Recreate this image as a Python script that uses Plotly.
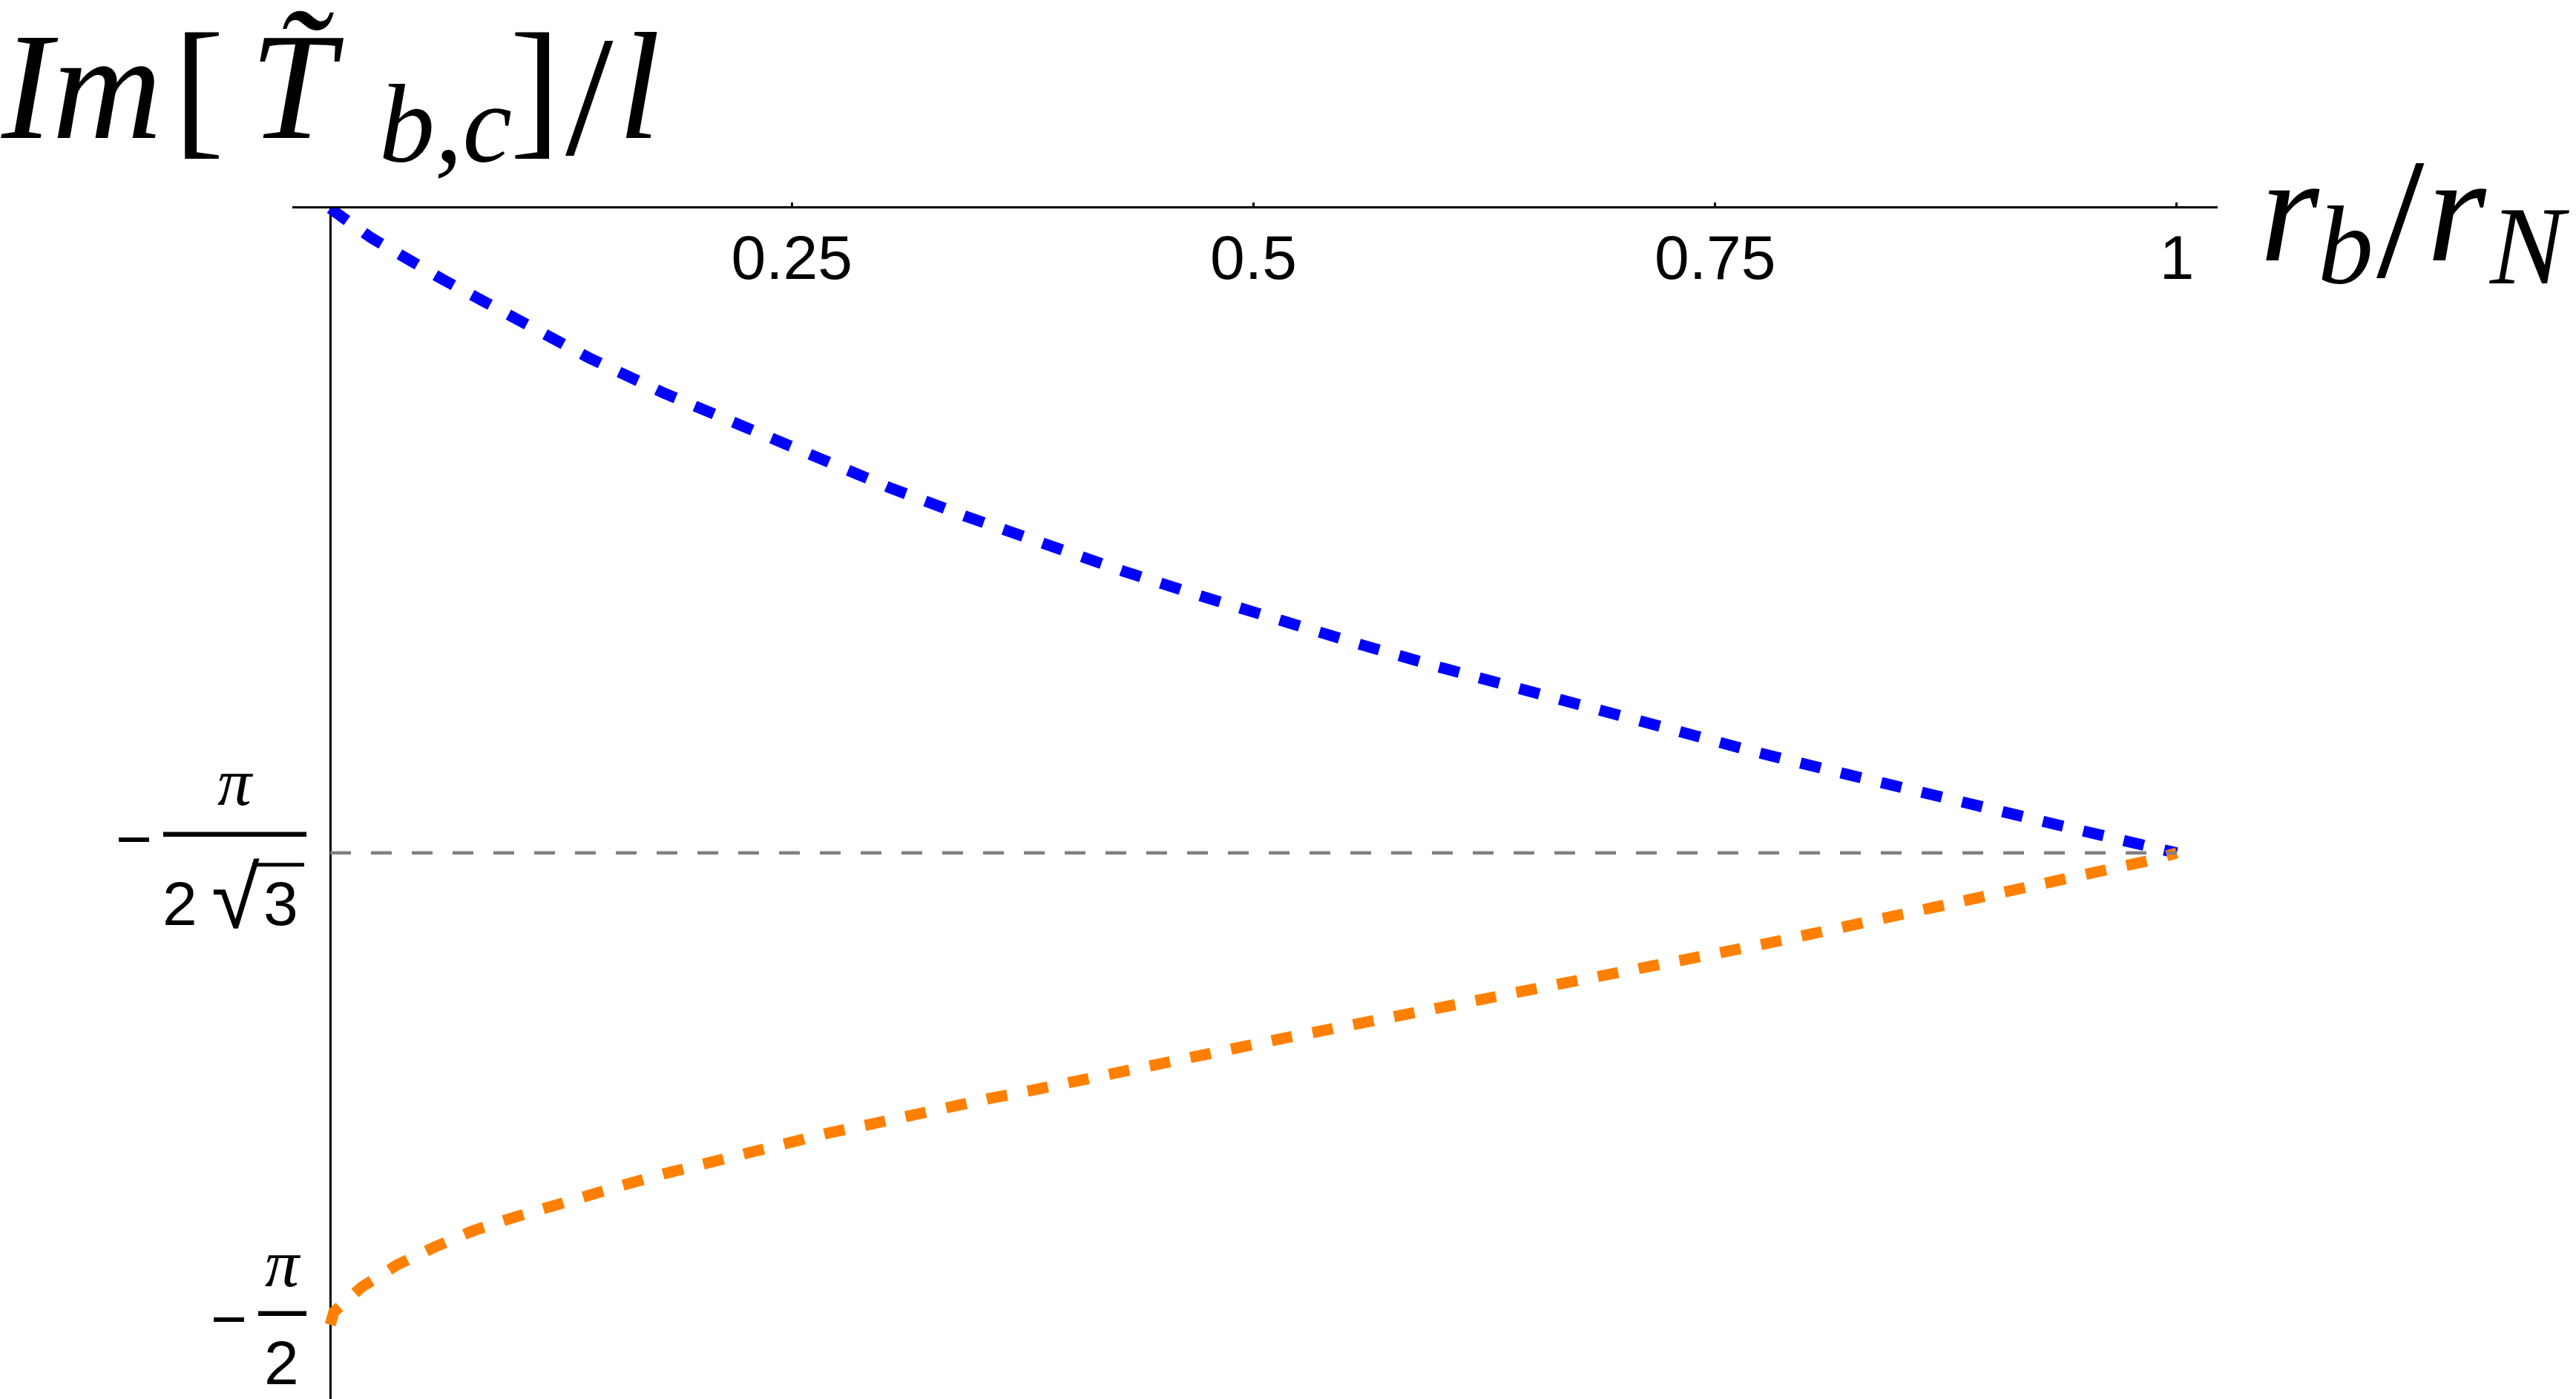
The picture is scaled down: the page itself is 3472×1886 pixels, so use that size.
import math
import plotly.graph_objects as go

# ---- data ----
r_blue = [0.0, 0.022, 0.061, 0.100, 0.140, 0.180, 0.221, 0.262, 0.303, 0.345, 0.386,
          0.429, 0.471, 0.514, 0.557, 0.600, 0.643, 0.686, 0.729, 0.772, 0.816,
          0.859, 0.902, 0.946, 0.990, 1.000]
im_blue = [0.0, -0.041, -0.100, -0.156, -0.210, -0.259, -0.305, -0.350, -0.393, -0.434, -0.473,
           -0.510, -0.545, -0.580, -0.613, -0.645, -0.676, -0.706, -0.736, -0.765, -0.793,
           -0.821, -0.848, -0.874, -0.901, -0.907]

r_orange = [0.0, 0.002, 0.017, 0.036, 0.057, 0.077, 0.098, 0.119, 0.141, 0.162, 0.183,
            0.205, 0.226, 0.248, 0.270, 0.292, 0.314, 0.336, 0.358, 0.380, 0.401,
            0.423, 0.444, 0.467, 0.488, 0.510, 0.532, 0.554, 0.576, 0.599, 0.620,
            0.641, 0.664, 0.686, 0.707, 0.730, 0.751, 0.773, 0.795, 0.816, 0.839,
            0.860, 0.882, 0.904, 0.926, 0.948, 0.969, 0.988, 1.000]
im_orange = [-1.5708, -1.553, -1.518, -1.487, -1.461, -1.439, -1.421, -1.404, -1.387, -1.372, -1.357,
             -1.342, -1.327, -1.314, -1.301, -1.289, -1.276, -1.264, -1.252, -1.241, -1.229,
             -1.217, -1.206, -1.195, -1.183, -1.171, -1.159, -1.148, -1.138, -1.126, -1.115,
             -1.104, -1.093, -1.082, -1.071, -1.059, -1.048, -1.037, -1.025, -1.013, -1.001,
             -0.990, -0.978, -0.966, -0.953, -0.941, -0.927, -0.916, -0.907]

ref_r = [0.0, 1.0]
ref_level = -math.pi / (2 * math.sqrt(3))

x_tickvals = [0.25, 0.5, 0.75, 1.0]
x_ticktext = ["0.25", "0.5", "0.75", "1"]

y_tickvals = [-math.pi / (2 * math.sqrt(3)), -math.pi / 2]
y_tick_num = ["π", "π"]
y_tick_den = [["2", "√", "3"], ["2"]]

# axis titles, split in pieces: (text, font size)
y_title_parts = [("<i>Im</i>", 205), ("[", 205), ("<i>T\u0303</i>", 205), ("<i>b,c</i>", 150),
                 ("]", 205), ("/", 232), ("<i>l</i>", 205)]
x_title_parts = [("<i>r</i>", 205), ("<i>b</i>", 150), ("/", 232), ("<i>r</i>", 205), ("<i>N</i>", 150)]

X_RANGE = [-0.0205, 1.0221]
Y_RANGE = [-1.6754, 0.0]

SANS = "Liberation Sans, Arial, sans-serif"
SERIF = "Liberation Serif, Times New Roman, serif"
TICK_SIZE = 84


def xpaper(v):
    return (v - X_RANGE[0]) / (X_RANGE[1] - X_RANGE[0])


def ypaper(v):
    return (v - Y_RANGE[0]) / (Y_RANGE[1] - Y_RANGE[0])


fig = go.Figure()
fig.add_trace(go.Scatter(x=r_blue, y=im_blue, mode="lines",
                         line=dict(color="#0000FF", width=15, dash="28px,28px"),
                         hoverinfo="skip", showlegend=False))
fig.add_trace(go.Scatter(x=r_orange, y=im_orange, mode="lines",
                         line=dict(color="#FF8000", width=15, dash="28px,28px"),
                         hoverinfo="skip", showlegend=False))
fig.add_trace(go.Scatter(x=ref_r, y=[ref_level, ref_level], mode="lines",
                         line=dict(color="#808080", width=4.5, dash="28px,27px"),
                         hoverinfo="skip", showlegend=False))

annotations = []
shapes = []

# y tick labels drawn as stacked fractions (pixel offsets from the tick position)
label_layout = [
    dict(minus=(-265, 19), num=(-128, 96),
         den=[(-203, -68, TICK_SIZE), (-128, -60, 118), (-67, -68, TICK_SIZE)],
         bar=(-225, -32, 25), over=(-105, -35, -16)),
    dict(minus=(-137, 8), num=(-64, 83),
         den=[(-66, -51, TICK_SIZE)],
         bar=(-97, -32, 15), over=None),
]
for val, num, den, lay in zip(y_tickvals, y_tick_num, y_tick_den, label_layout):
    annotations.append(dict(x=0, y=val, xref="x", yref="y", text="\u2212", showarrow=False,
                            xanchor="center", yanchor="middle",
                            xshift=lay["minus"][0], yshift=lay["minus"][1],
                            font=dict(family=SANS, size=TICK_SIZE, color="black")))
    annotations.append(dict(x=0, y=val, xref="x", yref="y", text="<i>" + num + "</i>", showarrow=False,
                            xanchor="center", yanchor="middle",
                            xshift=lay["num"][0], yshift=lay["num"][1],
                            font=dict(family=SERIF, size=92, color="black")))
    for part, (dx, dy, fs) in zip(den, lay["den"]):
        annotations.append(dict(x=0, y=val, xref="x", yref="y", text=part, showarrow=False,
                                xanchor="center", yanchor="middle", xshift=dx, yshift=dy,
                                font=dict(family=SANS, size=fs, color="black")))
    bx0, bx1, by = lay["bar"]
    shapes.append(dict(type="line", xref="paper", yref="paper", xsizemode="pixel", ysizemode="pixel",
                       xanchor=xpaper(0), yanchor=ypaper(val), x0=bx0, x1=bx1, y0=by, y1=by,
                       line=dict(color="black", width=6.5)))
    if lay["over"] is not None:
        ox0, ox1, oy = lay["over"]
        shapes.append(dict(type="line", xref="paper", yref="paper", xsizemode="pixel", ysizemode="pixel",
                           xanchor=xpaper(0), yanchor=ypaper(val), x0=ox0, x1=ox1, y0=oy, y1=oy,
                           line=dict(color="black", width=5)))

# axis titles: pixel offsets (centre x, y shift) of each piece
y_title_pos = [(-336, 165), (-177, 165), (-45, 165), (155, 114), (276, 165), (349, 152), (416, 165)]
for (txt, fs), (dx, dy) in zip(y_title_parts, y_title_pos):
    annotations.append(dict(x=0, y=0, xref="x", yref="y", text=txt, showarrow=False,
                            xanchor="center", yanchor="middle", xshift=dx, yshift=dy,
                            font=dict(family=SERIF, size=fs, color="black")))

x_title_pos = [(153, 0), (228, -50), (302, -13), (378, 0), (475, -50)]
for (txt, fs), (dx, dy) in zip(x_title_parts, x_title_pos):
    annotations.append(dict(x=1, y=0, xref="x", yref="y", text=txt, showarrow=False,
                            xanchor="center", yanchor="middle", xshift=dx, yshift=dy,
                            font=dict(family=SERIF, size=fs, color="black")))

fig.update_layout(
    width=3472, height=1886,
    margin=dict(l=394, r=483, t=281, b=0, pad=0),
    paper_bgcolor="white", plot_bgcolor="white",
    showlegend=False,
    annotations=annotations, shapes=shapes,
)
fig.update_xaxes(range=X_RANGE, side="top", showline=True, linecolor="black", linewidth=2.5,
                 ticks="outside", ticklen=5, tickwidth=2.5, tickcolor="black",
                 tickvals=x_tickvals, ticktext=x_ticktext, ticklabelposition="inside",
                 ticklabelstandoff=50,
                 tickfont=dict(family=SANS, size=TICK_SIZE, color="black"),
                 showgrid=False, zeroline=True, zerolinecolor="black", zerolinewidth=2.5)
fig.update_yaxes(range=Y_RANGE, showline=False, showgrid=False, zeroline=False,
                 showticklabels=False, ticks="")

fig.write_html("out.html", config={"displayModeBar": False},
               post_script="document.body.style.margin='0px';")
